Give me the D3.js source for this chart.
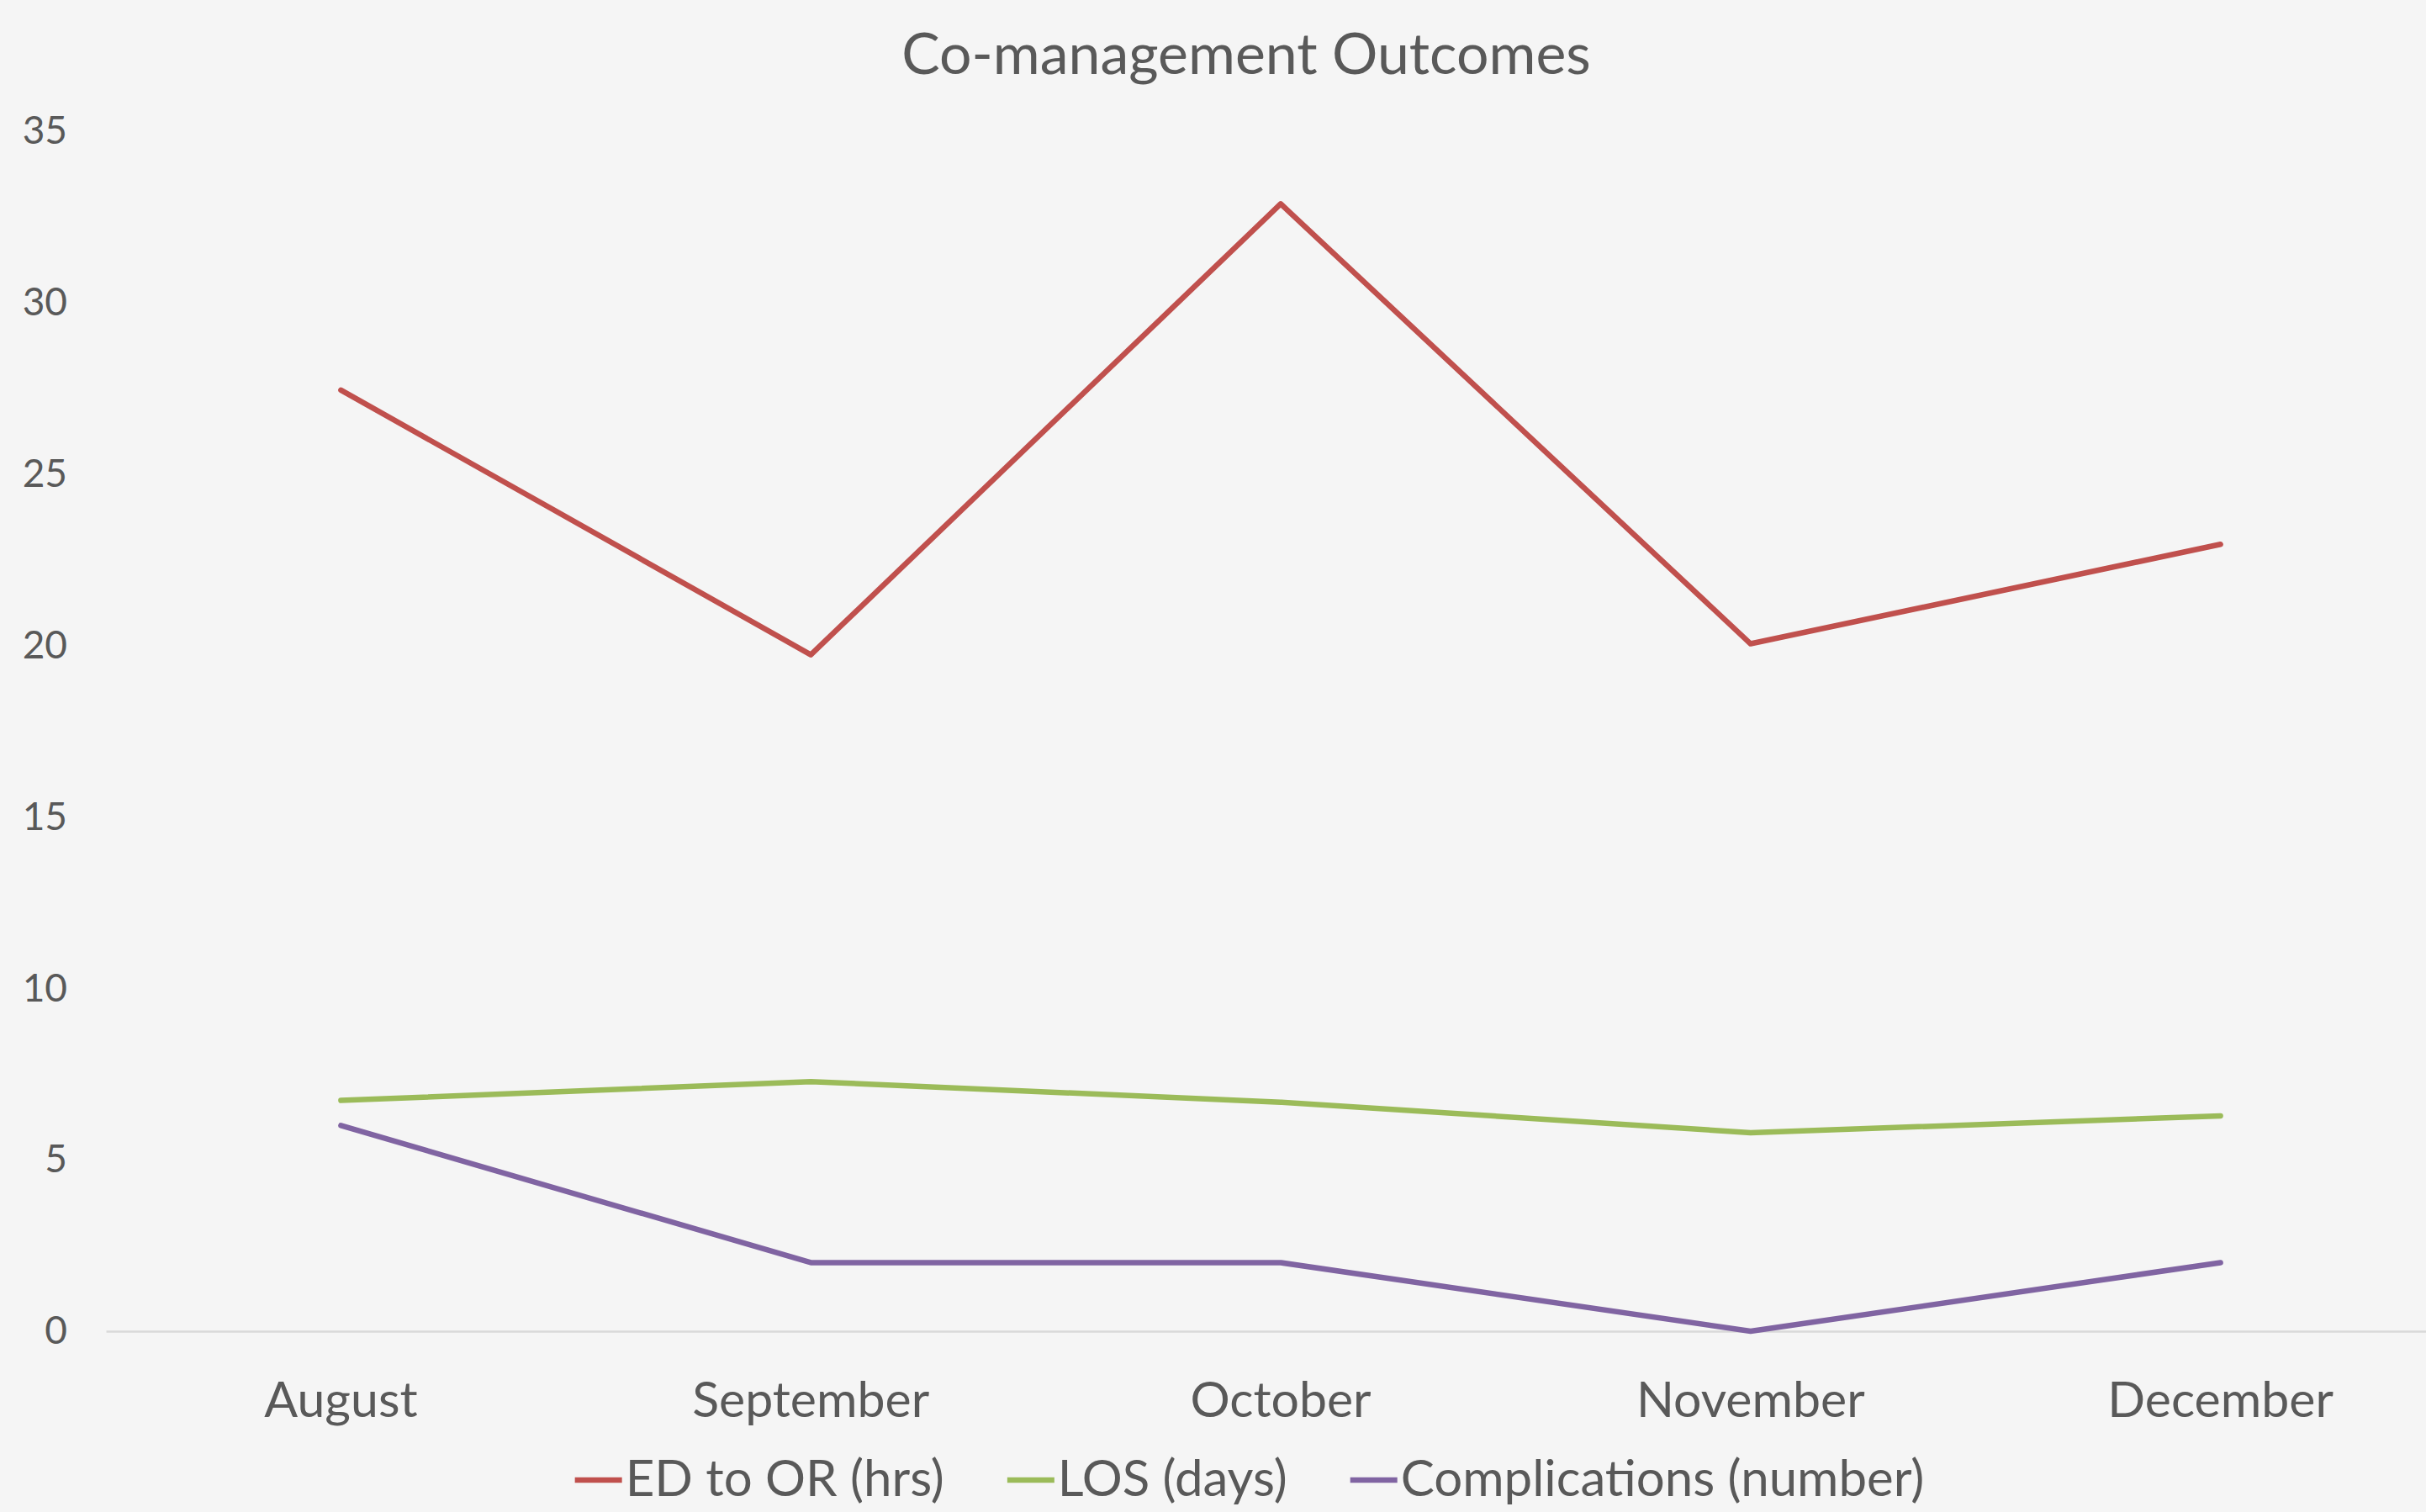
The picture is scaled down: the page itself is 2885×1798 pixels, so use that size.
<!DOCTYPE html>
<html>
<head>
<meta charset="utf-8">
<script src="https://cdn.jsdelivr.net/npm/d3@7"></script>
<style>
  body { margin: 0; background: #f5f5f5; }
  svg { display: block; font-family: Lato, "Open Sans", sans-serif; }
</style>
</head>
<body>
<div id="chart"></div>
<script>
// Data
var months = ['August', 'September', 'October', 'November', 'December'];
var edToOr = [27.45, 19.73, 32.88, 20.05, 22.95];
var losDays = [6.73, 7.28, 6.68, 5.79, 6.28];
var complications = [6, 2, 2, 0, 2];
var yTicks = [0, 5, 10, 15, 20, 25, 30, 35];

var seriesNames = ['ED to OR (hrs)', 'LOS (days)', 'Complications (number)'];
var seriesColors = ['#c0504d', '#9bbb59', '#8064a2'];

var width = 2885, height = 1798;
var margin = {top: 156, bottom: 215, left: 126, right: -35};

var series = [edToOr, losDays, complications].map(function(vals, i) {
    return {name: seriesNames[i], color: seriesColors[i],
            values: vals.map(function(v, j) { return {month: months[j], value: v}; })};
});

var svg = d3.select('#chart').append('svg')
    .attr('width', width)
    .attr('height', height);

svg.append('rect').attr('width', width).attr('height', height).attr('fill', '#f5f5f5');

// Scales setup
var xScale = d3.scaleBand().domain(months).range([margin.left, width - margin.right]);
var yScale = d3.scaleLinear().domain([0, 35]).range([height - margin.bottom, margin.top]);

// Title
svg.append('text')
    .attr('x', 1482)
    .attr('y', 88)
    .attr('text-anchor', 'middle')
    .attr('font-size', 68)
    .attr('fill', '#595959')
    .text('Co-management Outcomes');

// Y axis (labels only)
var yAxis = d3.axisLeft(yScale).tickValues(yTicks).tickSize(0).tickPadding(46);
var gy = svg.append('g').attr('transform', `translate(${margin.left},0)`).call(yAxis)
    .attr('font-family', null).attr('font-size', 46);
gy.select('.domain').remove();
gy.selectAll('text').attr('fill', '#595959');

// X axis
var xAxis = d3.axisBottom(xScale).tickSize(0).tickPadding(60);
var gx = svg.append('g').attr('transform', `translate(0,${yScale(0)})`).call(xAxis)
    .attr('font-family', null).attr('font-size', 59);
gx.select('.domain').attr('stroke', '#d9d9d9').attr('stroke-width', 2.5);
gx.selectAll('text').attr('fill', '#595959');

// Lines
var lineGen = d3.line()
    .x(function(d) { return xScale(d.month) + xScale.bandwidth() / 2; })
    .y(function(d) { return yScale(d.value); });

svg.selectAll('path.series')
    .data(series)
    .enter().append('path')
    .attr('class', 'series')
    .attr('fill', 'none')
    .attr('stroke', function(d) { return d.color; })
    .attr('stroke-width', 6.5)
    .attr('stroke-linejoin', 'round')
    .attr('stroke-linecap', 'round')
    .attr('d', function(d) { return lineGen(d.values); });

// Legend
var legend = svg.append('g').attr('class', 'legend');
var lx = 0;
series.forEach(function(s, i) {
    var item = legend.append('g').attr('transform', `translate(${lx},0)`);
    item.append('line')
        .attr('x1', 0).attr('x2', 56)
        .attr('y1', 0).attr('y2', 0)
        .attr('stroke', s.color).attr('stroke-width', 6.5);
    var t = item.append('text')
        .attr('x', 60)
        .attr('y', 19)
        .attr('font-size', 60)
        .attr('fill', '#595959')
        .text(s.name);
    lx += 60 + t.node().getComputedTextLength() + 75;
});
lx -= 75;
legend.attr('transform', `translate(${1486 - lx / 2},1760)`);
</script>
</body>
</html>
